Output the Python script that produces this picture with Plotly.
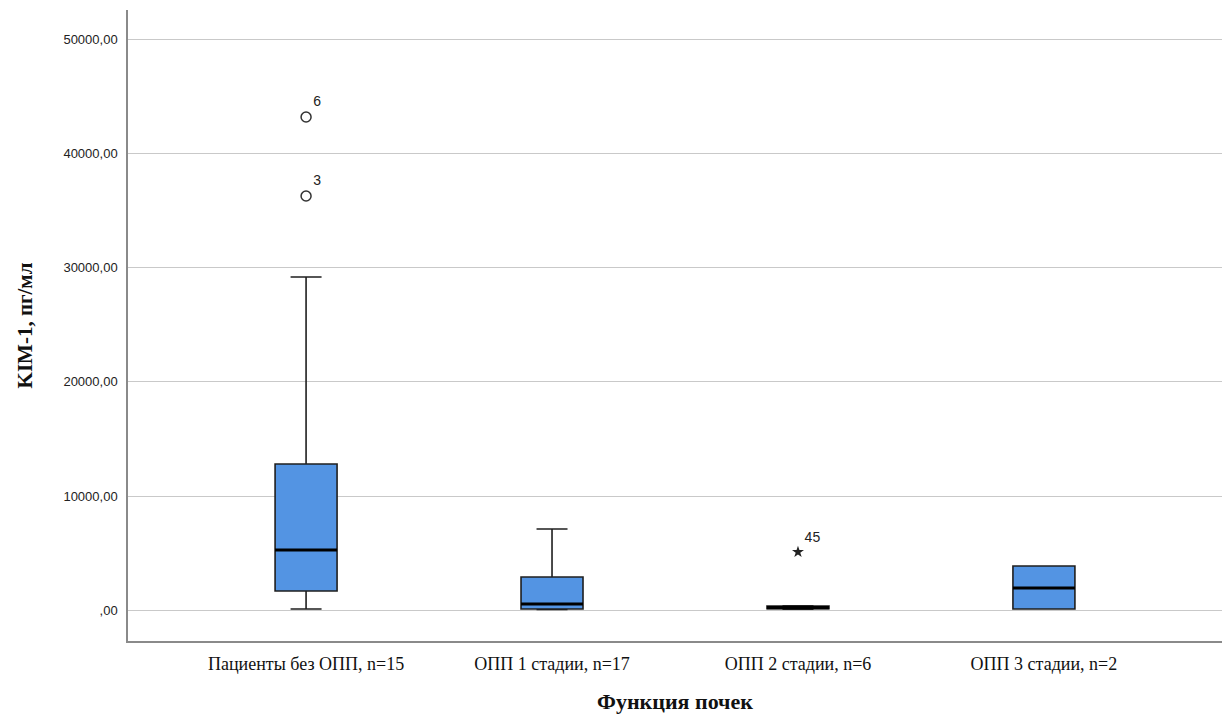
import plotly.graph_objects as go

categories = ["Пациенты без ОПП, n=15", "ОПП 1 стадии, n=17", "ОПП 2 стадии, n=6", "ОПП 3 стадии, n=2"]
lower_whisker = [130, 100, 120, 130]
q1 = [1706, 130, 150, 130]
median = [5293, 569, 260, 1968]
q3 = [12817, 2931, 400, 3893]
upper_whisker = [29178, 7130, 420, 3893]

circle_outlier_group = [0, 0]
circle_outlier_value = [43176, 36264]
circle_outlier_label = ["6", "3"]
star_outlier_group = [2]
star_outlier_value = [5118]
star_outlier_label = ["45"]

y_tick_vals = [0, 10000, 20000, 30000, 40000, 50000]
y_tick_text = [",00", "10000,00", "20000,00", "30000,00", "40000,00", "50000,00"]

BOX_W = 0.252
pos = list(range(len(categories)))

fig = go.Figure()
fig.add_trace(go.Box(
    x=pos, q1=q1, median=median, q3=q3,
    lowerfence=lower_whisker, upperfence=upper_whisker,
    width=BOX_W, whiskerwidth=0.5,
    fillcolor="#5394E3", line=dict(color="#1f1f1f", width=1.6),
    boxpoints=False, showlegend=False, hoverinfo="skip",
))
for i, m in zip(pos, median):
    fig.add_trace(go.Scatter(
        x=[i - BOX_W / 2, i + BOX_W / 2], y=[m, m], mode="lines",
        line=dict(color="#000000", width=3.2), showlegend=False, hoverinfo="skip",
    ))
fig.add_trace(go.Scatter(
    x=circle_outlier_group, y=circle_outlier_value, mode="markers+text",
    marker=dict(symbol="circle-open", size=10, color="#333333", line=dict(width=1.5)),
    text=circle_outlier_label, textposition="top right",
    textfont=dict(family="Liberation Sans, Arial", size=14, color="#222"),
    showlegend=False,
))
fig.add_trace(go.Scatter(
    x=star_outlier_group, y=star_outlier_value, mode="markers+text",
    marker=dict(symbol="star", size=9, color="#222222"),
    text=star_outlier_label, textposition="top right",
    textfont=dict(family="Liberation Sans, Arial", size=14, color="#222"),
    showlegend=False,
))

fig.update_layout(
    width=1232, height=718,
    margin=dict(l=128, r=10, t=10, b=77),
    paper_bgcolor="white", plot_bgcolor="white",
    xaxis=dict(
        range=[-0.724, 3.724], tickvals=pos, ticktext=categories, automargin=False,
        showgrid=False, zeroline=False, showline=True, linecolor="#8a8a8a", linewidth=1.5,
        ticks="", ticklabelstandoff=6,
        tickfont=dict(family="Liberation Serif, Times New Roman", size=18, color="#111"),
        title=dict(text="<b>Функция почек</b>", standoff=20,
                   font=dict(family="Liberation Serif, Times New Roman", size=22, color="#111")),
    ),
    yaxis=dict(
        range=[-2668, 52537], tickvals=y_tick_vals, ticktext=y_tick_text, automargin=False,
        showgrid=True, gridcolor="#c9c9c9", gridwidth=1.3, zeroline=False,
        showline=True, linecolor="#8a8a8a", linewidth=1.5,
        ticks="", ticklabelstandoff=6,
        tickfont=dict(family="Liberation Sans, Arial", size=13, color="#222"),
        title=dict(text="<b>KIM-1, пг/мл</b>", standoff=25,
                   font=dict(family="Liberation Serif, Times New Roman", size=21, color="#111")),
    ),
)

fig.write_html("out.html")
